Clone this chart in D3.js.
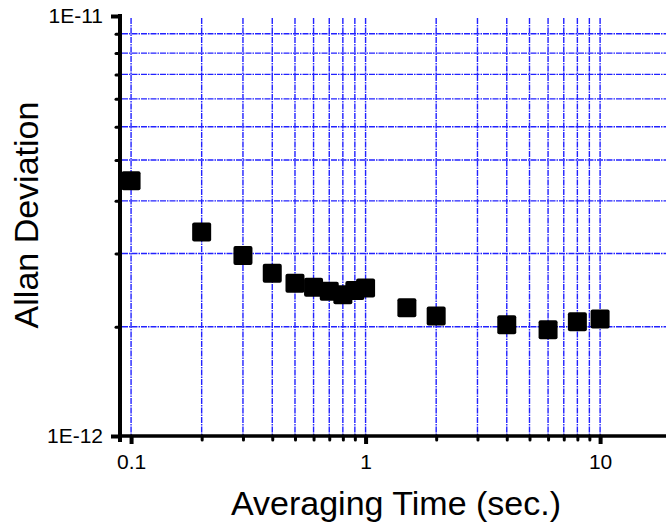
<!DOCTYPE html>
<html>
<head>
<meta charset="utf-8">
<script src="https://cdn.jsdelivr.net/npm/d3@7"></script>
<style>
  body { margin: 0; background: #fff; }
  svg { display: block; }
</style>
</head>
<body>
<script>
// averaging time (s) and Allan deviation
const tau = [0.1, 0.2, 0.3, 0.4, 0.5, 0.6, 0.7, 0.8, 0.9, 1, 1.5, 2, 4, 6, 8, 10];
const adev = [4.05e-12, 3.06e-12, 2.69e-12, 2.44e-12, 2.31e-12, 2.26e-12, 2.21e-12, 2.17e-12,
              2.22e-12, 2.25e-12, 2.02e-12, 1.93e-12, 1.84e-12, 1.79e-12, 1.87e-12, 1.90e-12];

const xGrid = [0.1, 0.2, 0.3, 0.4, 0.5, 0.6, 0.7, 0.8, 0.9, 1, 2, 3, 4, 5, 6, 7, 8, 9, 10];
const xMajor = [0.1, 1, 10];
const xLabels = ["0.1", "1", "10"];
const yGrid = [1.82e-12, 2.72e-12, 3.63e-12, 4.54e-12, 5.45e-12, 6.35e-12, 7.26e-12, 8.16e-12, 9.07e-12];
const yMajor = [1e-12, 1e-11];
const yLabels = ["1E-12", "1E-11"];

const width = 666, height = 523;
const plotLeft = 120, plotRight = 666, plotTop = 16, plotBottom = 436;

const x = d3.scaleLog().domain([0.0897, 19.1]).range([plotLeft, plotRight]);
const y = d3.scaleLog().domain([1e-12, 1e-11]).range([plotBottom, plotTop]);

const svg = d3.select("body").append("svg")
    .attr("width", width)
    .attr("height", height)
    .attr("font-family", "'Liberation Sans', Arial, sans-serif");

// grid (dash-dot blue)
svg.append("g")
    .selectAll("line")
    .data(xGrid)
    .join("line")
      .attr("x1", d => x(d)).attr("x2", d => x(d))
      .attr("y1", plotTop + 2).attr("y2", plotBottom)
      .attr("stroke", "#2222ff")
      .attr("stroke-width", 1.4)
      .attr("stroke-dasharray", "6,1,1.5,1");

svg.append("g")
    .selectAll("line")
    .data(yGrid)
    .join("line")
      .attr("x1", plotLeft + 2).attr("x2", plotRight)
      .attr("y1", d => y(d)).attr("y2", d => y(d))
      .attr("stroke", "#2222ff")
      .attr("stroke-width", 1.4)
      .attr("stroke-dasharray", "6,1,1.5,1");

// x axis
const xAxis = svg.append("g")
    .attr("transform", `translate(0,${plotBottom})`);
xAxis.append("g")
    .call(d3.axisBottom(x).tickValues(xGrid).tickSize(4).tickFormat(""))
    .call(g => g.select(".domain").remove())
    .call(g => g.selectAll(".tick line").attr("stroke-width", 3).attr("stroke-linecap", "round"));
xAxis.append("g")
    .call(d3.axisBottom(x).tickValues(xMajor).tickSize(8).tickPadding(10)
      .tickFormat((d, i) => xLabels[i]))
    .call(g => g.select(".domain").remove())
    .call(g => g.selectAll(".tick line").attr("stroke-width", 4))
    .call(g => g.selectAll(".tick text").attr("font-size", 21).attr("fill", "#000"));
xAxis.append("line")
    .attr("x1", plotLeft - 2).attr("x2", plotRight)
    .attr("stroke", "#000").attr("stroke-width", 3.5);

// y axis
const yAxis = svg.append("g")
    .attr("transform", `translate(${plotLeft},0)`);
yAxis.append("g")
    .call(d3.axisLeft(y).tickValues(yGrid).tickSize(4).tickFormat(""))
    .call(g => g.select(".domain").remove())
    .call(g => g.selectAll(".tick line").attr("stroke-width", 3).attr("stroke-linecap", "round"));
yAxis.append("g")
    .call(d3.axisLeft(y).tickValues(yMajor).tickSize(9).tickPadding(8)
      .tickFormat((d, i) => yLabels[i]))
    .call(g => g.select(".domain").remove())
    .call(g => g.selectAll(".tick line").attr("stroke-width", 4))
    .call(g => g.selectAll(".tick text").attr("font-size", 21).attr("fill", "#000"));
yAxis.append("line")
    .attr("y1", plotTop - 2).attr("y2", plotBottom + 6)
    .attr("stroke", "#000").attr("stroke-width", 4);

// points
svg.append("g")
    .selectAll("rect")
    .data(tau.map((t, i) => [t, adev[i]]))
    .join("rect")
      .attr("x", d => x(d[0]) - 9.5)
      .attr("y", d => y(d[1]) - 9.5)
      .attr("width", 19)
      .attr("height", 19)
      .attr("rx", 2)
      .attr("fill", "#000");

// titles
svg.append("text")
    .attr("x", 396)
    .attr("y", 515)
    .attr("text-anchor", "middle")
    .attr("font-size", 34)
    .text("Averaging Time (sec.)");

svg.append("text")
    .attr("transform", "translate(38,215) rotate(-90)")
    .attr("text-anchor", "middle")
    .attr("font-size", 34)
    .text("Allan Deviation");
</script>
</body>
</html>
